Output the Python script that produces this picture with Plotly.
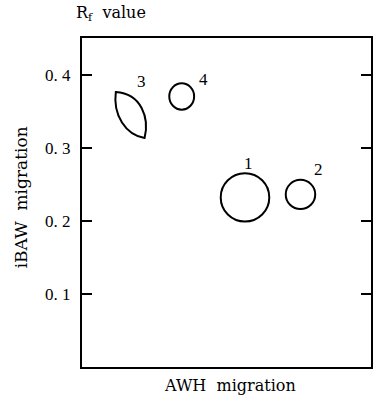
import plotly.graph_objects as go

# ---- data ----
spot_labels = ["1", "2", "4"]
spot_x = [0.564, 0.756, 0.345]        # AWH migration (relative)
spot_y = [0.232, 0.236, 0.370]        # iBAW migration Rf
spot_hx = [0.084, 0.051, 0.043]       # half-width of spot
spot_hy = [0.033, 0.020, 0.018]       # half-height of spot

# spot 3 is lens-shaped: top tip, bottom tip and bezier control points
spot3_tips_x = [0.117, 0.2165]
spot3_tips_y = [0.376, 0.3133]
spot3_left_ctrl_x = [0.1065, 0.1512]
spot3_left_ctrl_y = [0.3447, 0.3174]
spot3_right_ctrl_x = [0.2337, 0.2062]
spot3_right_ctrl_y = [0.3406, 0.3735]

label_text = ["1", "2", "3", "4"]
label_x = [0.577, 0.818, 0.205, 0.419]
label_y = [0.279, 0.270, 0.390, 0.393]

y_tick_vals = [0.1, 0.2, 0.3, 0.4]
y_tick_text = ["0. 1", "0. 2", "0. 3", "0. 4"]

FONT = "Liberation Serif"
TFONT = "DejaVu Serif"
NB = "\u00a0"

fig = go.Figure()
fig.add_trace(go.Scatter(x=[0, 1], y=[0, 0.45], mode="markers",
                         marker=dict(opacity=0), showlegend=False, hoverinfo="skip"))

shapes = []
for x, y, hx, hy in zip(spot_x, spot_y, spot_hx, spot_hy):
    shapes.append(dict(type="circle", xref="x", yref="y",
                       x0=x - hx, x1=x + hx, y0=y - hy, y1=y + hy,
                       line=dict(color="black", width=2)))

p0 = (spot3_tips_x[0], spot3_tips_y[0])
p3 = (spot3_tips_x[1], spot3_tips_y[1])
path = (f"M {p0[0]},{p0[1]} "
        f"C {spot3_left_ctrl_x[0]},{spot3_left_ctrl_y[0]} {spot3_left_ctrl_x[1]},{spot3_left_ctrl_y[1]} {p3[0]},{p3[1]} "
        f"C {spot3_right_ctrl_x[0]},{spot3_right_ctrl_y[0]} {spot3_right_ctrl_x[1]},{spot3_right_ctrl_y[1]} {p0[0]},{p0[1]} Z")
shapes.append(dict(type="path", xref="x", yref="y", path=path,
                   line=dict(color="black", width=2)))

annotations = []
for t, x, y in zip(label_text, label_x, label_y):
    annotations.append(dict(text=t, x=x, y=y, xref="x", yref="y", showarrow=False,
                            font=dict(family=FONT, size=17, color="black")))

annotations += [
    dict(text="R<sub>f</sub>" + NB * 2 + "value", xref="paper", yref="paper", x=-0.026, y=1.075,
         xanchor="left", yanchor="middle", showarrow=False,
         font=dict(family=TFONT, size=16, color="black")),
    dict(text="AWH" + NB * 2 + "migration", xref="paper", yref="paper", x=0.512, y=-0.055,
         xanchor="center", yanchor="middle", showarrow=False,
         font=dict(family=TFONT, size=16, color="black")),
    dict(text="iBAW" + NB * 2 + "migration", xref="paper", yref="paper", x=-0.213, y=0.517,
         xanchor="center", yanchor="middle", showarrow=False, textangle=-90,
         font=dict(family=TFONT, size=17, color="black")),
]

fig.update_layout(
    width=375, height=398,
    margin=dict(l=82, r=2, t=38, b=31),
    paper_bgcolor="white", plot_bgcolor="white",
    showlegend=False,
    shapes=shapes, annotations=annotations,
    xaxis=dict(range=[0, 1], showgrid=False, zeroline=False, showticklabels=False,
               ticks="", showline=True, linecolor="black", linewidth=2, mirror=True),
    yaxis=dict(range=[0, 0.45], showgrid=False, zeroline=False,
               tickvals=y_tick_vals, ticktext=y_tick_text,
               ticks="inside", ticklen=10, tickwidth=1.5, tickcolor="black",
               ticklabelstandoff=6,
               showline=True, linecolor="black", linewidth=2, mirror="ticks",
               tickfont=dict(family=FONT, size=17, color="black")),
)

fig.write_html("out.html", config={"displayModeBar": False},
               post_script="document.body.style.margin='0px';")
